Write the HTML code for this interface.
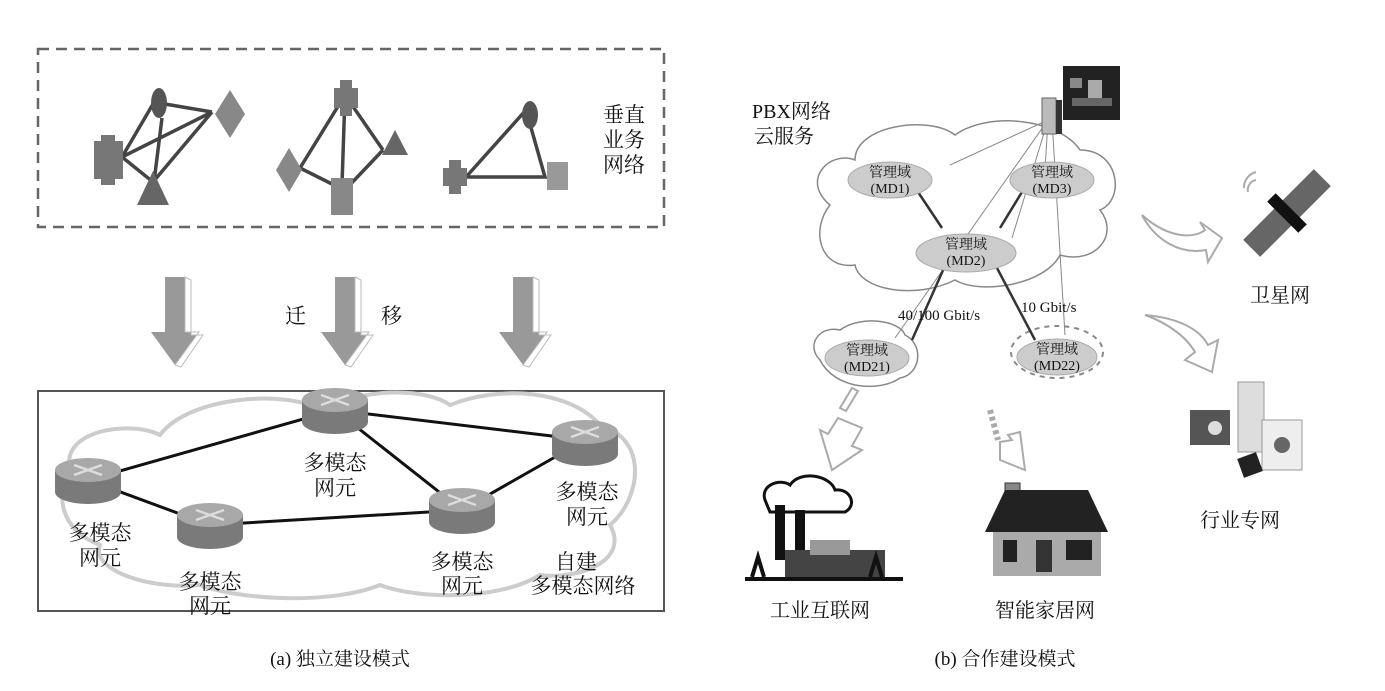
<!DOCTYPE html>
<html><head><meta charset="utf-8"><style>
html,body{margin:0;padding:0;background:#fff;}
svg{display:block;}
text{font-family:"Liberation Serif","Noto Serif CJK SC","Noto Sans CJK SC",serif;fill:#111;}
</style></head><body>
<svg width="1385" height="691" viewBox="0 0 1385 691" xmlns="http://www.w3.org/2000/svg">
<defs>
<g id="router">
<path d="M-33,0 L-33,22 A33,12 0 0 0 33,22 L33,0 Z" fill="#7a7a7a"/>
<ellipse cx="0" cy="0" rx="33" ry="12" fill="#a8a8a8"/>
<path d="M-14,-5 L14,5 M-14,5 L14,-5" stroke="#ddd" stroke-width="2.5"/>
</g>
<g id="darr">
<path d="M-10,0 L10,0 L10,55 L24,55 L0,88 L-24,55 L-10,55 Z" fill="#999"/>
<path d="M10,0 L16,3 L16,58 L28,58 L6,90 L0,88 L24,55 L10,55 Z" fill="#fff" stroke="#bbb" stroke-width="1"/>
</g>
</defs>

<rect x="38" y="49" width="626" height="178" fill="none" stroke="#666" stroke-width="2.5" stroke-dasharray="11,7"/>
<g stroke="#444" stroke-width="3.5" fill="none">
<path d="M122,157 L153,104 M122,157 L212,112 M122,157 L153,182 M159,103 L212,112 M162,118 L154,182 M153,182 L212,112"/>
<path d="M345,95 L300,168 M345,95 L342,185 M345,95 L383,150 M300,168 L340,188 M383,150 L345,190"/>
<path d="M466,177 L526,110 L545,177 Z"/>
</g>
<ellipse cx="159" cy="103" rx="8" ry="15" fill="#555"/>
<path d="M230,90 L245,114 L230,138 L215,114 Z" fill="#888"/>
<path d="M101,135 h14 v6 h8 v38 h-8 v6 h-14 v-6 h-7 v-38 h7 Z" fill="#777"/>
<path d="M153,171 L169,205 L137,205 Z" fill="#666"/>
<path d="M340,80 h12 v8 h6 v20 h-6 v8 h-12 v-8 h-6 v-20 h6 Z" fill="#777"/>
<path d="M289,148 L302,170 L289,192 L276,170 Z" fill="#888"/>
<path d="M395,130 L408,155 L382,155 Z" fill="#666"/>
<rect x="331" y="178" width="22" height="37" fill="#888"/>
<ellipse cx="530" cy="115" rx="8" ry="14" fill="#555"/>
<path d="M449,160 h12 v8 h6 v18 h-6 v8 h-12 v-8 h-6 v-18 h6 Z" fill="#777"/>
<rect x="547" y="162" width="21" height="28" fill="#999"/>
<text x="603" y="122" font-size="21">垂直</text>
<text x="603" y="147" font-size="21">业务</text>
<text x="603" y="172" font-size="21">网络</text>

<use href="#darr" x="175" y="277"/>
<use href="#darr" x="345" y="277"/>
<use href="#darr" x="523" y="277"/>
<text x="285" y="323" font-size="21">迁</text>
<text x="381" y="323" font-size="21">移</text>

<rect x="38" y="391" width="626" height="220" fill="none" stroke="#555" stroke-width="2"/>
<path d="M70,470 C60,430 130,420 160,435 C190,395 290,390 320,410 C370,385 430,390 450,405 C500,385 570,390 600,425 C650,440 640,500 610,525 C630,560 580,580 540,575 C500,600 420,600 380,585 C330,605 240,600 200,585 C150,590 90,570 100,545 C60,530 55,495 70,470 Z" fill="none" stroke="#ccc" stroke-width="4"/>
<g stroke="#111" stroke-width="3" fill="none">
<path d="M88,480 L335,410 L462,510 L585,440 L335,410 M88,480 L210,525 L462,510"/>
</g>
<use href="#router" x="88" y="470"/>
<use href="#router" x="335" y="400"/>
<use href="#router" x="210" y="515"/>
<use href="#router" x="462" y="500"/>
<use href="#router" x="585" y="432"/>
<g font-size="21" text-anchor="middle">
<text x="100" y="540">多模态</text><text x="100" y="565">网元</text>
<text x="335" y="470">多模态</text><text x="335" y="495">网元</text>
<text x="210" y="589">多模态</text><text x="210" y="613">网元</text>
<text x="462" y="569">多模态</text><text x="462" y="593">网元</text>
<text x="587" y="499">多模态</text><text x="587" y="524">网元</text>
<text x="576" y="569">自建</text><text x="583" y="593">多模态网络</text>
</g>
<text x="340" y="665" font-size="19" text-anchor="middle">(a)  独立建设模式</text>

<path d="M830,205 C800,180 830,150 855,160 C855,125 930,115 955,135 C990,110 1060,120 1080,150 C1120,150 1125,200 1100,210 C1120,235 1095,265 1060,255 C1045,285 980,295 955,280 C915,300 860,290 855,265 C820,270 810,230 830,205 Z" fill="#fff" stroke="#888" stroke-width="1.5"/>
<path d="M820,360 C805,345 820,325 840,330 C860,315 900,320 905,335 C925,345 920,375 900,378 C880,392 835,390 820,360 Z" fill="#fff" stroke="#888" stroke-width="1.5"/>
<ellipse cx="1057" cy="352" rx="46" ry="26" fill="none" stroke="#888" stroke-width="2" stroke-dasharray="5,5"/>
<g stroke="#888" stroke-width="1">
<path d="M1048,120 L950,165 M1048,120 L895,338 M1048,120 L1045,170 M1048,120 L1012,238 M1052,120 L1065,335"/>
</g>
<g stroke="#333" stroke-width="2.5">
<path d="M918,192 L942,228 M1022,192 L1000,228 M944,268 L912,340 M997,268 L1035,340"/>
</g>
<g fill="#ccc" stroke="#aaa">
<ellipse cx="890" cy="180" rx="42" ry="18"/>
<ellipse cx="1052" cy="180" rx="42" ry="18"/>
<ellipse cx="966" cy="253" rx="50" ry="19"/>
<ellipse cx="867" cy="358" rx="42" ry="18"/>
<ellipse cx="1057" cy="357" rx="40" ry="18"/>
</g>
<g font-size="14" text-anchor="middle">
<text x="890" y="177">管理域</text><text x="890" y="193">(MD1)</text>
<text x="1052" y="177">管理域</text><text x="1052" y="193">(MD3)</text>
<text x="966" y="249">管理域</text><text x="966" y="265">(MD2)</text>
<text x="867" y="355">管理域</text><text x="867" y="371">(MD21)</text>
<text x="1057" y="354">管理域</text><text x="1057" y="370">(MD22)</text>
</g>
<text x="898" y="320" font-size="15">40/100 Gbit/s</text>
<text x="1021" y="312" font-size="15">10 Gbit/s</text>
<text x="752" y="118" font-size="20">PBX网络</text>
<text x="754" y="143" font-size="20">云服务</text>
<rect x="1063" y="66" width="57" height="54" fill="#222"/>
<rect x="1070" y="78" width="12" height="10" fill="#888"/><rect x="1088" y="80" width="14" height="18" fill="#aaa"/><rect x="1072" y="98" width="40" height="8" fill="#666"/>
<rect x="1042" y="98" width="14" height="36" fill="#bbb" stroke="#666"/>
<rect x="1056" y="100" width="6" height="34" fill="#333"/>

<path d="M1142,215 C1170,240 1195,238 1205,230 L1200,222 L1222,238 L1208,262 L1206,250 C1180,255 1155,240 1142,215 Z" fill="#fff" stroke="#aaa" stroke-width="2"/>
<path d="M1145,315 C1180,318 1200,330 1208,345 L1218,340 L1212,372 L1185,360 L1195,352 C1185,335 1165,322 1145,315 Z" fill="#fff" stroke="#aaa" stroke-width="2"/>
<g transform="translate(1287,213) rotate(-45)">
<rect x="-50" y="-12" width="100" height="24" fill="#666"/>
<rect x="-6" y="-22" width="12" height="44" fill="#111"/>
</g>
<path d="M1248,192 a10,10 0 0 1 8,-12 M1244,188 a16,16 0 0 1 12,-16" stroke="#aaa" stroke-width="2" fill="none"/>
<text x="1280" y="302" font-size="20" text-anchor="middle">卫星网</text>
<rect x="1238" y="382" width="26" height="70" fill="#ddd" stroke="#999"/>
<rect x="1190" y="410" width="40" height="35" fill="#555"/>
<circle cx="1215" cy="428" r="7" fill="#ddd"/>
<rect x="1262" y="420" width="40" height="50" fill="#eee" stroke="#999"/>
<circle cx="1282" cy="445" r="8" fill="#666"/>
<rect x="1240" y="455" width="20" height="20" fill="#222" transform="rotate(-20 1250 465)"/>
<text x="1240" y="527" font-size="20" text-anchor="middle">行业专网</text>

<path d="M852,388 l6,3 -12,20 -6,-3 Z" fill="none" stroke="#aaa" stroke-width="2"/>
<path d="M838,418 L828,434 L820,430 L832,470 L862,450 L852,446 L862,428 Z" fill="#fff" stroke="#aaa" stroke-width="2"/>
<path d="M990,410 l8,30" stroke="#aaa" stroke-width="6" stroke-dasharray="4,3"/>
<path d="M1000,442 L1012,440 L1008,435 L1020,432 L1025,470 L1000,460 Z" fill="#fff" stroke="#aaa" stroke-width="2"/>
<path d="M765,500 C760,485 780,478 790,485 C800,470 830,475 835,490 C850,488 858,505 845,512 L770,512 Z" fill="#fff" stroke="#111" stroke-width="3"/>
<rect x="775" y="505" width="10" height="55" fill="#111"/>
<rect x="795" y="510" width="10" height="50" fill="#111"/>
<rect x="785" y="550" width="100" height="28" fill="#444"/>
<rect x="810" y="540" width="40" height="15" fill="#999"/>
<rect x="745" y="577" width="158" height="4" fill="#111"/>
<path d="M752,577 l6,-20 l6,20 M870,577 l6,-20 l6,20" stroke="#111" stroke-width="4" fill="none"/>
<text x="820" y="617" font-size="20" text-anchor="middle">工业互联网</text>
<rect x="1005" y="483" width="15" height="20" fill="#888" stroke="#333"/>
<path d="M1005,490 L1088,490 L1108,532 L985,532 Z" fill="#222"/>
<rect x="993" y="532" width="108" height="44" fill="#aaa"/>
<rect x="1003" y="540" width="14" height="22" fill="#222"/><rect x="1036" y="540" width="16" height="32" fill="#333"/><rect x="1066" y="540" width="26" height="20" fill="#222"/>
<text x="1045" y="617" font-size="20" text-anchor="middle">智能家居网</text>

<text x="1005" y="665" font-size="19" text-anchor="middle">(b)  合作建设模式</text>
</svg>
</body></html>
